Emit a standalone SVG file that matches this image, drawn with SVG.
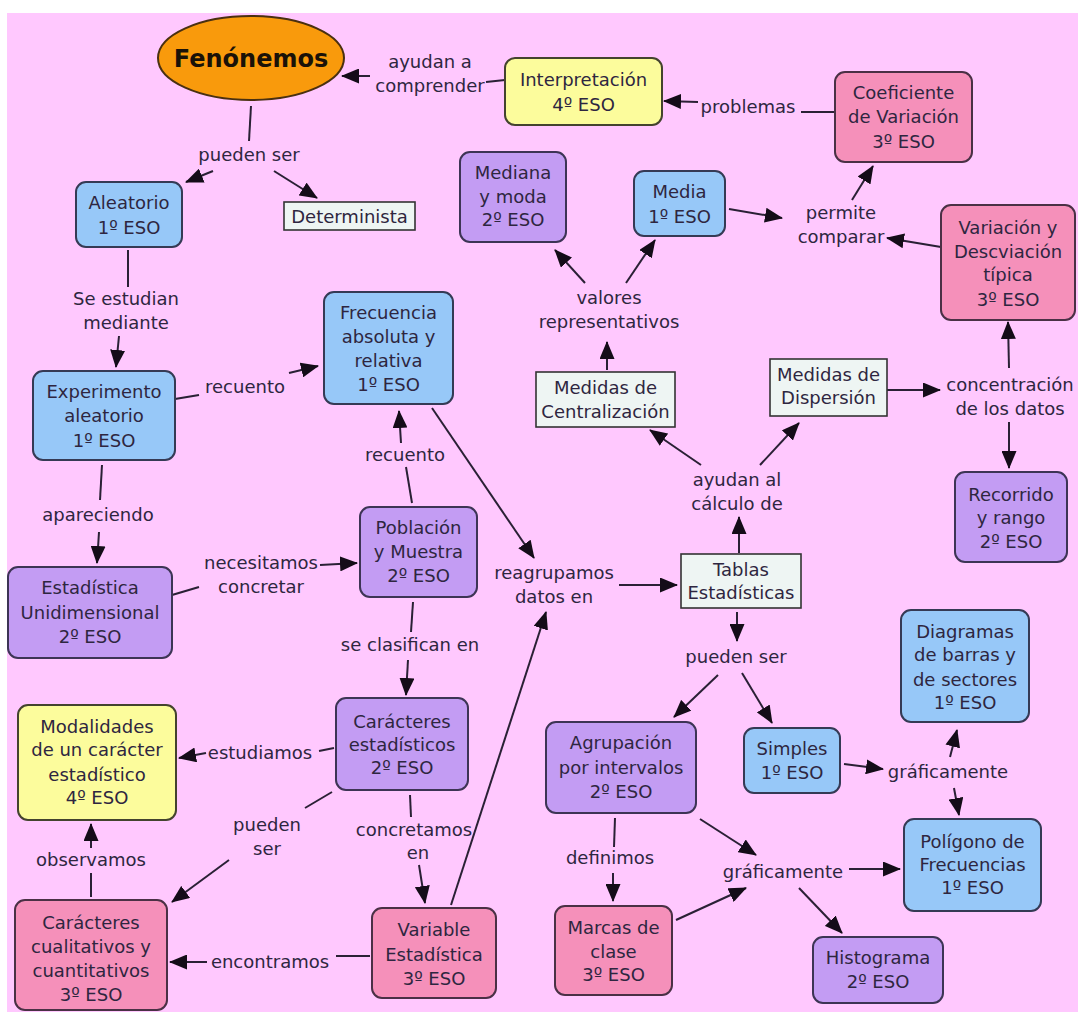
<svg xmlns="http://www.w3.org/2000/svg" width="1078" height="1012" viewBox="0 0 1078 1012">
<style>
text{font-family:"DejaVu Sans",Verdana,sans-serif;font-size:18px;fill:#2e2640;text-anchor:middle}
.t{font-weight:bold;font-size:24px;fill:#1a1208}
.b{fill:#97c8f8;stroke:#353a55;stroke-width:2}
.p{fill:#c39cf3;stroke:#3d3455;stroke-width:2}
.k{fill:#f590ba;stroke:#4a3045;stroke-width:2}
.y{fill:#fcfc9c;stroke:#44432e;stroke-width:2}
.w{fill:#eef5f3;stroke:#333;stroke-width:1.6}
.c line{stroke:#2a2035;stroke-width:2}
.c .a{marker-end:url(#ah)}
</style>
<defs>
<marker id="ah" markerUnits="userSpaceOnUse" markerWidth="18" markerHeight="15" refX="17" refY="7.5" orient="auto">
<path d="M0,0 L18,7.5 L0,15 z" fill="#140c18"/>
</marker>
</defs>
<rect x="0" y="0" width="1078" height="1012" fill="#ffffff"/>
<rect x="7" y="13" width="1071" height="999" fill="#ffc8fe"/>

<g class="c" id="connectors">
<line class="a" x1="370" y1="76" x2="342" y2="76"/>
<line x1="486" y1="82" x2="505" y2="80"/>
<line class="a" x1="698" y1="102" x2="664" y2="101"/>
<line x1="801" y1="112" x2="835" y2="112"/>
<line x1="251" y1="106" x2="249" y2="141"/>
<line class="a" x1="213" y1="171" x2="186" y2="182"/>
<line class="a" x1="274" y1="171" x2="317" y2="198"/>
<line x1="128" y1="250" x2="128" y2="287"/>
<line class="a" x1="119" y1="336" x2="116" y2="367"/>
<line x1="175" y1="399" x2="199" y2="395"/>
<line class="a" x1="289" y1="373" x2="318" y2="366"/>
<line x1="412" y1="503" x2="406" y2="467"/>
<line class="a" x1="401" y1="443" x2="399" y2="411"/>
<line class="a" x1="432" y1="408" x2="534" y2="558"/>
<line x1="102" y1="465" x2="100" y2="500"/>
<line class="a" x1="99" y1="532" x2="97" y2="563"/>
<line x1="172" y1="595" x2="199" y2="587"/>
<line class="a" x1="320" y1="565" x2="357" y2="563"/>
<line x1="413" y1="602" x2="411" y2="632"/>
<line class="a" x1="408" y1="660" x2="406" y2="695"/>
<line class="a" x1="451" y1="905" x2="546" y2="612"/>
<line class="a" x1="607" y1="370" x2="607" y2="342"/>
<line class="a" x1="585" y1="283" x2="555" y2="250"/>
<line class="a" x1="626" y1="283" x2="655" y2="240"/>
<line class="a" x1="729" y1="209" x2="782" y2="218"/>
<line class="a" x1="852" y1="200" x2="873" y2="166"/>
<line class="a" x1="941" y1="247" x2="887" y2="238"/>
<line class="a" x1="887" y1="390" x2="940" y2="390"/>
<line class="a" x1="1009" y1="368" x2="1008" y2="322"/>
<line class="a" x1="1009" y1="422" x2="1009" y2="468"/>
<line class="a" x1="701" y1="465" x2="650" y2="430"/>
<line class="a" x1="760" y1="465" x2="799" y2="423"/>
<line class="a" x1="739" y1="553" x2="739" y2="517"/>
<line class="a" x1="619" y1="585" x2="677" y2="585"/>
<line class="a" x1="737" y1="612" x2="737" y2="641"/>
<line class="a" x1="718" y1="675" x2="674" y2="717"/>
<line class="a" x1="742" y1="673" x2="772" y2="723"/>
<line class="a" x1="844" y1="764" x2="883" y2="769"/>
<line class="a" x1="950" y1="757" x2="957" y2="730"/>
<line class="a" x1="954" y1="788" x2="959" y2="815"/>
<line x1="615" y1="818" x2="614" y2="847"/>
<line class="a" x1="613" y1="873" x2="613" y2="901"/>
<line class="a" x1="700" y1="819" x2="756" y2="855"/>
<line class="a" x1="676" y1="920" x2="746" y2="888"/>
<line class="a" x1="849" y1="869" x2="900" y2="869"/>
<line class="a" x1="799" y1="888" x2="842" y2="933"/>
<line x1="319" y1="751" x2="334" y2="748"/>
<line class="a" x1="206" y1="753" x2="179" y2="758"/>
<line x1="332" y1="792" x2="305" y2="808"/>
<line class="a" x1="229" y1="860" x2="172" y2="902"/>
<line x1="410" y1="795" x2="411" y2="817"/>
<line class="a" x1="419" y1="865" x2="425" y2="903"/>
<line x1="91" y1="897" x2="91" y2="873"/>
<line class="a" x1="91" y1="848" x2="91" y2="824"/>
<line x1="336" y1="956" x2="370" y2="956"/>
<line class="a" x1="207" y1="962" x2="170" y2="962"/>
</g>

<g id="labels">
<text x="430" y="68">ayudan a</text><text x="430" y="92">comprender</text>
<text x="748" y="113">problemas</text>
<text x="249" y="161">pueden ser</text>
<text x="126" y="305">Se estudian</text><text x="126" y="329">mediante</text>
<text x="609" y="304">valores</text><text x="609" y="328">representativos</text>
<text x="841" y="219">permite</text><text x="841" y="243">comparar</text>
<text x="245" y="393">recuento</text>
<text x="405" y="461">recuento</text>
<text x="1010" y="391">concentración</text><text x="1010" y="415">de los datos</text>
<text x="737" y="486">ayudan al</text><text x="737" y="510">cálculo de</text>
<text x="98" y="521">apareciendo</text>
<text x="261" y="569">necesitamos</text><text x="261" y="593">concretar</text>
<text x="554" y="579">reagrupamos</text><text x="554" y="603">datos en</text>
<text x="410" y="651">se clasifican en</text>
<text x="736" y="663">pueden ser</text>
<text x="260" y="759">estudiamos</text>
<text x="948" y="778">gráficamente</text>
<text x="267" y="831">pueden</text><text x="267" y="855">ser</text>
<text x="414" y="836">concretamos</text><text x="418" y="859">en</text>
<text x="91" y="866">observamos</text>
<text x="610" y="864">definimos</text>
<text x="783" y="878">gráficamente</text>
<text x="270" y="968">encontramos</text>
</g>

<g id="n-fenomenos"><ellipse cx="251" cy="58" rx="93" ry="42" fill="#f99a0c" stroke="#4a3010" stroke-width="2"/><text class="t" x="251" y="67">Fenónemos</text></g>
<g id="n-interpretacion"><rect class="y" x="505" y="58" width="157" height="67" rx="10"/><text x="583.5" y="86">Interpretación</text><text x="583.5" y="111">4º ESO</text></g>
<g id="n-coeficiente"><rect class="k" x="835" y="72" width="137" height="90" rx="10"/><text x="903.5" y="99">Coeficiente</text><text x="903.5" y="123">de Variación</text><text x="903.5" y="148">3º ESO</text></g>
<g id="n-mediana"><rect class="p" x="460" y="152" width="106" height="90" rx="10"/><text x="513" y="179">Mediana</text><text x="513" y="203">y moda</text><text x="513" y="226">2º ESO</text></g>
<g id="n-media"><rect class="b" x="634" y="171" width="91" height="65" rx="10"/><text x="679.5" y="198">Media</text><text x="679.5" y="223">1º ESO</text></g>
<g id="n-variacion"><rect class="k" x="941" y="205" width="134" height="115" rx="10"/><text x="1008" y="234">Variación y</text><text x="1008" y="258">Descviación</text><text x="1008" y="281">típica</text><text x="1008" y="306">3º ESO</text></g>
<g id="n-aleatorio"><rect class="b" x="76" y="182" width="106" height="65" rx="10"/><text x="129" y="209">Aleatorio</text><text x="129" y="234">1º ESO</text></g>
<g id="n-determinista"><rect class="w" x="284" y="202" width="131" height="28"/><text x="349.5" y="223">Determinista</text></g>
<g id="n-frecuencia"><rect class="b" x="324" y="292" width="129" height="112" rx="10"/><text x="388.5" y="319">Frecuencia</text><text x="388.5" y="343">absoluta y</text><text x="388.5" y="367">relativa</text><text x="388.5" y="391">1º ESO</text></g>
<g id="n-experimento"><rect class="b" x="33" y="371" width="142" height="89" rx="10"/><text x="104" y="398">Experimento</text><text x="104" y="422">aleatorio</text><text x="104" y="447">1º ESO</text></g>
<g id="n-centralizacion"><rect class="w" x="536" y="372" width="139" height="55"/><text x="605.5" y="394">Medidas de</text><text x="605.5" y="418">Centralización</text></g>
<g id="n-dispersion"><rect class="w" x="770" y="359" width="117" height="57"/><text x="828.5" y="381">Medidas de</text><text x="828.5" y="404">Dispersión</text></g>
<g id="n-recorrido"><rect class="p" x="955" y="472" width="112" height="90" rx="10"/><text x="1011" y="501">Recorrido</text><text x="1011" y="524">y rango</text><text x="1011" y="548">2º ESO</text></g>
<g id="n-poblacion"><rect class="p" x="360" y="507" width="117" height="90" rx="10"/><text x="418.5" y="534">Población</text><text x="418.5" y="558">y Muestra</text><text x="418.5" y="582">2º ESO</text></g>
<g id="n-unidimensional"><rect class="p" x="8" y="567" width="164" height="91" rx="10"/><text x="90" y="594">Estadística</text><text x="90" y="619">Unidimensional</text><text x="90" y="643">2º ESO</text></g>
<g id="n-tablas"><rect class="w" x="681" y="554" width="120" height="54"/><text x="741" y="576">Tablas</text><text x="741" y="599">Estadísticas</text></g>
<g id="n-diagramas"><rect class="b" x="901" y="610" width="128" height="112" rx="10"/><text x="965" y="638">Diagramas</text><text x="965" y="661">de barras y</text><text x="965" y="686">de sectores</text><text x="965" y="709">1º ESO</text></g>
<g id="n-modalidades"><rect class="y" x="18" y="705" width="158" height="115" rx="10"/><text x="97" y="733">Modalidades</text><text x="97" y="756">de un carácter</text><text x="97" y="781">estadístico</text><text x="97" y="804">4º ESO</text></g>
<g id="n-caracteres"><rect class="p" x="336" y="698" width="132" height="92" rx="10"/><text x="402" y="728">Carácteres</text><text x="402" y="751">estadísticos</text><text x="402" y="774">2º ESO</text></g>
<g id="n-agrupacion"><rect class="p" x="546" y="722" width="150" height="91" rx="10"/><text x="621" y="749">Agrupación</text><text x="621" y="774">por intervalos</text><text x="621" y="798">2º ESO</text></g>
<g id="n-simples"><rect class="b" x="744" y="728" width="96" height="65" rx="10"/><text x="792" y="755">Simples</text><text x="792" y="779">1º ESO</text></g>
<g id="n-poligono"><rect class="b" x="904" y="819" width="137" height="92" rx="10"/><text x="972.5" y="848">Polígono de</text><text x="972.5" y="871">Frecuencias</text><text x="972.5" y="894">1º ESO</text></g>
<g id="n-cualitativos"><rect class="k" x="15" y="900" width="152" height="110" rx="10"/><text x="91" y="929">Carácteres</text><text x="91" y="953">cualitativos y</text><text x="91" y="977">cuantitativos</text><text x="91" y="1001">3º ESO</text></g>
<g id="n-variable"><rect class="k" x="372" y="908" width="124" height="90" rx="10"/><text x="434" y="936">Variable</text><text x="434" y="961">Estadística</text><text x="434" y="985">3º ESO</text></g>
<g id="n-marcas"><rect class="k" x="555" y="906" width="117" height="89" rx="10"/><text x="613.5" y="934">Marcas de</text><text x="613.5" y="958">clase</text><text x="613.5" y="981">3º ESO</text></g>
<g id="n-histograma"><rect class="p" x="813" y="937" width="130" height="66" rx="10"/><text x="878" y="964">Histograma</text><text x="878" y="988">2º ESO</text></g>
</svg>
